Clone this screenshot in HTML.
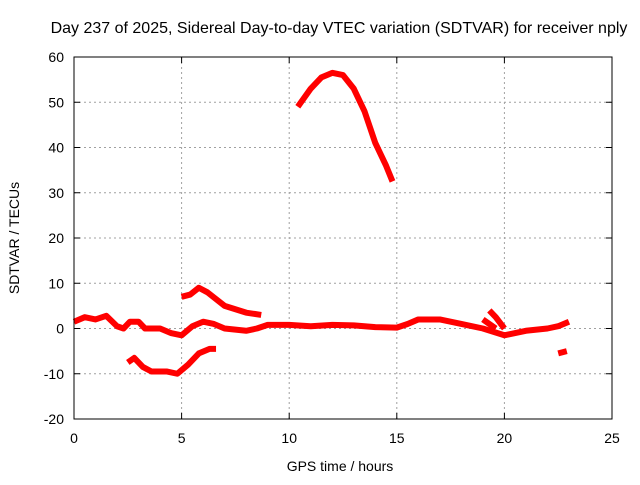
<!DOCTYPE html>
<html><head><meta charset="utf-8"><style>
body{margin:0;background:#fff;}
svg text{font-family:"Liberation Sans",sans-serif;font-size:14px;fill:#000;}
</style></head><body>
<svg id="c" width="640" height="480"></svg>
<script>
const xTicks=[0,5,10,15,20,25];
const yTicks=[-20,-10,0,10,20,30,40,50,60];
const segX=[
 [0,0.5,1,1.5,2,2.3,2.6,3,3.3,4,4.5,5,5.5,6,6.5,7,8,8.5,9,10,11,12,13,14,15,15.5,16,17,18,19,20,20.5,21,22,22.5,23],
 [5,5.4,5.8,6.2,7,8,8.7],
 [2.5,2.8,3.2,3.6,4.3,4.8,5.3,5.8,6.3,6.6],
 [10.4,11,11.5,12,12.5,13,13.5,14,14.5,14.8],
 [22.5,22.9],
 [19.3,19.6,20],
 [19,19.6]
];
const segY=[
 [1.5,2.5,2,2.8,0.5,0,1.5,1.5,0,0,-1,-1.5,0.5,1.5,1,0,-0.5,0,0.8,0.8,0.5,0.8,0.7,0.3,0.2,1,2,2,1,0,-1.5,-1,-0.5,0,0.5,1.5],
 [7,7.5,9,8,5,3.5,3],
 [-7.5,-6.5,-8.5,-9.5,-9.5,-10,-8,-5.5,-4.5,-4.5],
 [49,53,55.5,56.5,56,53,48,41,36,32.5],
 [-5.5,-5],
 [4,2.5,0],
 [2,0]
];
const L=74,R=612,T=57,B=419;
const sx=v=>L+(v-0)/25*(R-L);
const sy=v=>B-(v+20)/80*(B-T);
const NS="http://www.w3.org/2000/svg";
const svg=document.getElementById('c');
function mk(t,a,p){const e=document.createElementNS(NS,t);for(const k in a)e.setAttribute(k,a[k]);(p||svg).appendChild(e);return e;}
xTicks.forEach(v=>{
 if(v>0&&v<25){const g=mk('line',{x1:sx(v),x2:sx(v),y1:T,y2:B,stroke:'#a0a0a0','stroke-dasharray':'2,3'});
 
 }
 mk('line',{x1:sx(v),x2:sx(v),y1:B,y2:B-6,stroke:'#000'});
 mk('line',{x1:sx(v),x2:sx(v),y1:T,y2:T+6,stroke:'#000'});
 const t=mk('text',{x:sx(v),y:B+24,'text-anchor':'middle'});t.textContent=v;
 
 
});
yTicks.forEach(v=>{
 if(v>-20&&v<60){const g=mk('line',{x1:L,x2:R,y1:sy(v),y2:sy(v),stroke:'#a0a0a0','stroke-dasharray':'2,3'});
 
 }
 mk('line',{x1:L,x2:L+6,y1:sy(v),y2:sy(v),stroke:'#000'});
 mk('line',{x1:R,x2:R-6,y1:sy(v),y2:sy(v),stroke:'#000'});
 const t=mk('text',{x:L-10,y:sy(v)+5,'text-anchor':'end'});t.textContent=v;
 
 
});
segX.forEach((xs,i)=>{
 const pts=xs.map((x,j)=>sx(x)+','+sy(segY[i][j])).join(' ');
 const p=mk('polyline',{points:pts,fill:'none',stroke:'#ff0000','stroke-width':6,'stroke-linejoin':'round'});
 
 
});
const fr=mk('rect',{x:L,y:T,width:R-L,height:B-T,fill:'none',stroke:'#000'});


const ti=mk('text',{x:339,y:33,'text-anchor':'middle','font-size':'16','style':'font-size:16px'});ti.textContent='Day 237 of 2025, Sidereal Day-to-day VTEC variation (SDTVAR) for receiver nply';


const xl=mk('text',{x:340,y:471,'text-anchor':'middle'});xl.textContent='GPS time / hours';


const yl=mk('text',{x:19,y:238,'text-anchor':'middle',transform:'rotate(-90 19 238)'});yl.textContent='SDTVAR / TECUs';


</script>
</body></html>
